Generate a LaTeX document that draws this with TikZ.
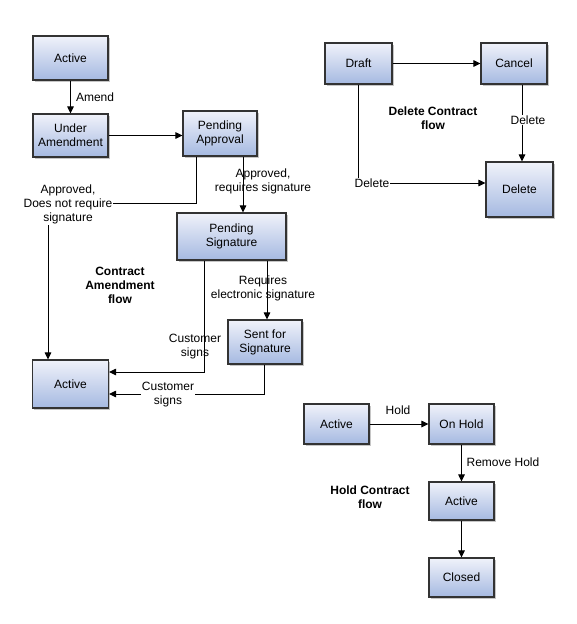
\documentclass[tikz,border=0pt]{standalone}
\usepackage{fontspec}
\setmainfont{Liberation Sans}
\usetikzlibrary{arrows.meta, shadows}

\definecolor{boxtop}{HTML}{F0F2FA}
\definecolor{boxbot}{HTML}{A5B9E1}
\definecolor{boxline}{HTML}{333333}

\begin{document}
\begin{tikzpicture}[>={Triangle[length=7pt,width=6.5pt]}, x=1pt, y=-1pt, line width=1pt]
\tikzset{ state/.style={align=center, draw=boxline, line width=1.1pt,
                        top color=boxtop, bottom color=boxbot, inner sep=1pt,
                        drop shadow={shadow xshift=1.8pt, shadow yshift=-1.8pt, opacity=0.45},
                        font=\fontsize{12}{14}\selectfont},
          lbl/.style={align=center, inner sep=1pt, font=\fontsize{12}{14}\selectfont},
          flow/.style={align=center, font=\fontsize{12}{14}\selectfont\bfseries} };
\useasboundingbox (0,0) rectangle (576,624);

% contract amendment flow
\node[state, minimum width=75, minimum height=44] (act1) at (70.5,58) {Active};
\node[state, minimum width=75, minimum height=43] (under) at (70.5,135.5) {Under\\Amendment};
\node[state, minimum width=74, minimum height=45] (pappr) at (220,133.5) {Pending\\Approval};
\node[state, minimum width=109, minimum height=47] (psig) at (231.5,236.5) {Pending\\Signature};
\node[state, minimum width=74, minimum height=44] (sent) at (265,342) {Sent for\\Signature};
\node[state, minimum width=76, minimum height=48] (act2) at (70.5,384) {Active};
\node[flow] (fl1) at (120,285) {Contract\\Amendment\\flow};

\coordinate (bend1) at (48,203);
\draw[->] (act1) -- node[lbl, right=4pt]{Amend} (under);
\draw[->] (under) -- (under -| pappr.west);
\draw[->] ([xshift=-24pt]pappr.south) |- (bend1) -- (bend1 |- act2.north);
\node[lbl, fill=white] (l1) at (68,204) {Approved,\\Does not require\\signature};
\draw[->] ([xshift=23pt]pappr.south) -- ([xshift=23pt]pappr.south |- psig.north);
\node[lbl] (l2) at (263,181) {Approved,\\requires signature};
\draw[->] ([xshift=-27.5pt]psig.south) |- ([yshift=12pt]act2.east);
\node[lbl] (l3) at (195,347) {Customer\\signs};
\draw[->] ([xshift=35.5pt]psig.south) -- ([xshift=35.5pt]psig.south |- sent.north);
\node[lbl] (l4) at (263,288) {Requires\\electronic signature};
\draw[->] ([xshift=-1pt]sent.south) |- ([yshift=-10pt]act2.east);
\node[lbl, fill=white] (l5) at (168,395) {Customer\\signs};

% delete contract flow
\node[state, minimum width=67, minimum height=41] (draft) at (358.5,63.5) {Draft};
\node[state, minimum width=66, minimum height=41] (cancel) at (514,63.5) {Cancel};
\node[state, minimum width=67, minimum height=55] (del) at (519.5,189.5) {Delete};
\node[flow] (fl2) at (433,118) {Delete Contract\\flow};

\draw[->] (draft) -- (cancel);
\draw[->] (draft.south) |- ([yshift=6.5pt]del.west);
\node[lbl, fill=white] (l6) at (372,183) {Delete};
\draw[->] ([xshift=8pt]cancel.south) -- ([xshift=8pt]cancel.south |- del.north);
\node[lbl, fill=white] (l7) at (528,120) {Delete};

% hold contract flow
\node[state, minimum width=65, minimum height=40] (act3) at (336.5,424) {Active};
\node[state, minimum width=65, minimum height=40] (hold) at (461.5,424) {On Hold};
\node[state, minimum width=65, minimum height=38] (act4) at (461.5,501) {Active};
\node[state, minimum width=65, minimum height=39] (closed) at (461.5,577.5) {Closed};
\node[flow] (fl3) at (370,497) {Hold Contract\\flow};

\draw[->] (act3) -- (hold);
\node[lbl] (l8) at (398,410) {Hold};
\draw[->] (hold) -- (act4);
\node[lbl] (l9) at (503,462) {Remove Hold};
\draw[->] (act4) -- (closed);

\end{tikzpicture}
\end{document}
